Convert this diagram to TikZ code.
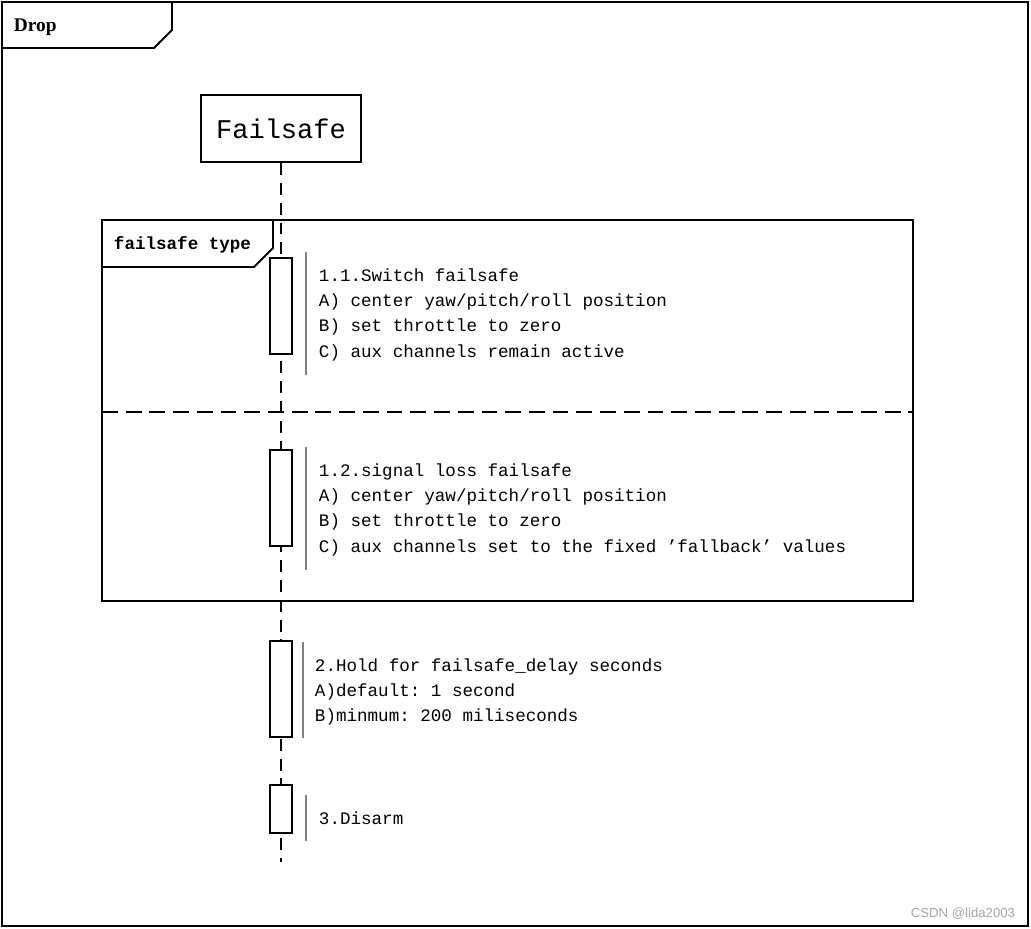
\documentclass[tikz,border=0pt]{standalone}
\usepackage{fontspec}
\setmainfont{Liberation Serif}
\setmonofont{Liberation Mono}
\newfontfamily\wmfont{Liberation Sans}
\usetikzlibrary{positioning}

\begin{document}
\begin{tikzpicture}[x=0.02cm,y=-0.02cm,line width=1.1pt,
	actbox/.style={draw,fill=white,minimum width=0.44cm,minimum height=1.92cm,inner sep=0pt},
	noteline/.style={draw=gray,line width=0.8pt},
	msg/.style={anchor=north west,inner sep=0pt,align=left,font=\ttfamily\fontsize{10pt}{14.3pt}\selectfont},
	lifeline/.style={dash pattern=on 6.8pt off 4.5pt}]
	\useasboundingbox (0,0) rectangle (1031,929);
	% outer frame
	\draw (2,2) rectangle (1028,926);
	\draw (2,48)--(154,48)--(172,30)--(172,2);
	\node[anchor=west,inner sep=0pt,font=\bfseries\fontsize{11pt}{13pt}\selectfont] (drop) at (13,27) {Drop};
	% lifeline
	\node[draw,minimum width=3.2cm,minimum height=1.34cm,font=\ttfamily\fontsize{15.4pt}{18pt}\selectfont] (fs) at (281,128.5) {Failsafe};
	\coordinate (lend) at (281,862);
	\draw[lifeline] (fs.south)--(lend);
	% alt fragment
	\draw (102,220) rectangle (913,601);
	\draw (102,267)--(254,267)--(273,248)--(273,220);
	\node[anchor=west,inner sep=0pt,font=\ttfamily\bfseries\fontsize{10pt}{12pt}\selectfont] (ftype) at (113,245) {failsafe type};
	\draw[dash pattern=on 9pt off 4.5pt] (102,412)--(913,412);
	% activations
	\node[actbox] (act1) at (281,306) {};
	\node[actbox] (act2) at (281,498) {};
	\node[actbox] (act3) at (281,689) {};
	\node[actbox,minimum height=0.96cm] (act4) at (281,809) {};
	\draw[noteline] (306,252)--(306,375);
	\draw[noteline] (306,447)--(306,570);
	\draw[noteline] (303,642)--(303,738);
	\draw[noteline] (306,795)--(306,841);
	% notes
	\node[msg] (note1) at (318,268) {1.1.Switch failsafe\\A) center yaw/pitch/roll position\\B) set throttle to zero\\C) aux channels remain active};
	\node[msg] (note2) at (318,463) {1.2.signal loss failsafe\\A) center yaw/pitch/roll position\\B) set throttle to zero\\C) aux channels set to the fixed ’fallback’ values};
	\node[msg] (note3) at (314,658) {2.Hold for failsafe\_delay seconds\\A)default: 1 second\\B)minmum: 200 miliseconds};
	\node[msg] (note4) at (318,811) {3.Disarm};
	\node[anchor=east,inner sep=0pt,text=gray!70,font=\wmfont\fontsize{7.5pt}{9pt}\selectfont] (wm) at (1016,914) {CSDN @lida2003};
\end{tikzpicture}
\end{document}
